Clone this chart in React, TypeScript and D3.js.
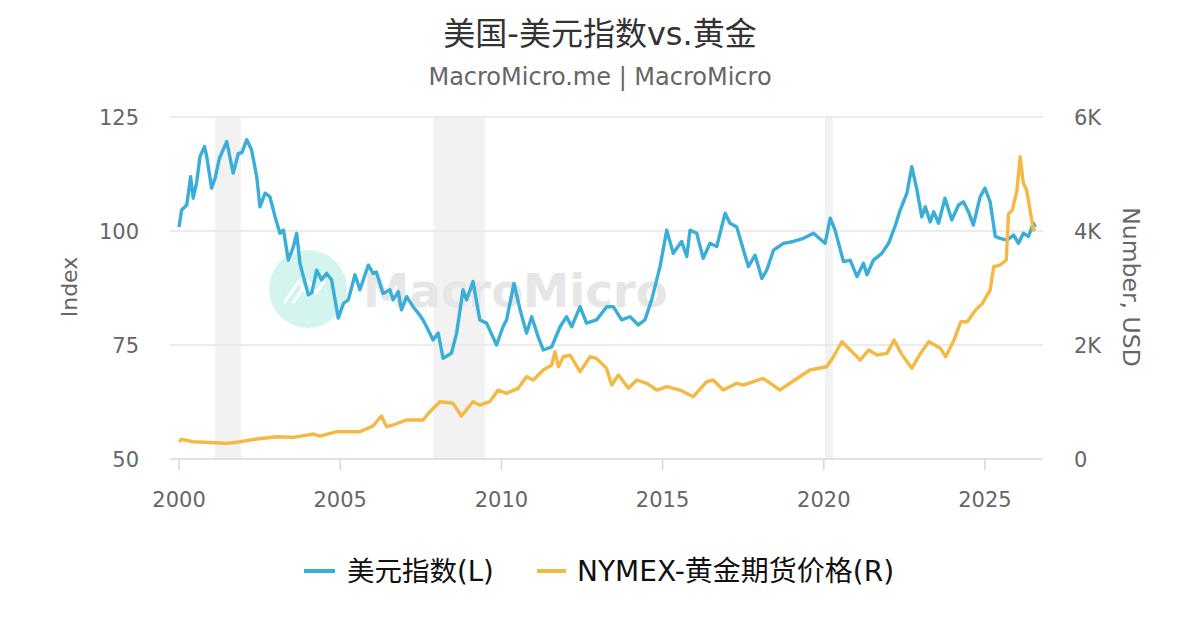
import React from 'react';
import * as d3 from 'd3';

// US Dollar Index (left axis), decimal years
const dxyYears = [
  2000.0, 2000.08, 2000.24, 2000.36, 2000.44, 2000.55, 2000.65, 2000.79, 2000.86, 2001.01,
  2001.12, 2001.25, 2001.48, 2001.68, 2001.84, 2001.95, 2002.1, 2002.25, 2002.41, 2002.51,
  2002.67, 2002.82, 2002.98, 2003.13, 2003.24, 2003.39, 2003.55, 2003.65, 2003.75, 2004.01,
  2004.12, 2004.27, 2004.42, 2004.58, 2004.73, 2004.94, 2005.1, 2005.25, 2005.46, 2005.61,
  2005.87, 2006.02, 2006.12, 2006.33, 2006.54, 2006.64, 2006.8, 2006.9, 2007.06, 2007.26,
  2007.42, 2007.57, 2007.73, 2007.88, 2008.04, 2008.19, 2008.45, 2008.61, 2008.81, 2008.92,
  2009.12, 2009.33, 2009.54, 2009.85, 2010.05, 2010.16, 2010.39, 2010.58, 2010.78, 2010.94,
  2011.14, 2011.3, 2011.56, 2011.82, 2012.02, 2012.18, 2012.44, 2012.64, 2012.95, 2013.27,
  2013.47, 2013.73, 2013.99, 2014.25, 2014.45, 2014.66, 2014.92, 2015.13, 2015.33, 2015.59,
  2015.75, 2015.85, 2016.06, 2016.26, 2016.47, 2016.68, 2016.94, 2017.09, 2017.3, 2017.51,
  2017.66, 2017.87, 2018.08, 2018.23, 2018.44, 2018.75, 2019.06, 2019.37, 2019.68, 2020.04,
  2020.2, 2020.35, 2020.61, 2020.82, 2021.03, 2021.23, 2021.34, 2021.54, 2021.8, 2022.01,
  2022.21, 2022.37, 2022.58, 2022.73, 2022.89, 2023.04, 2023.15, 2023.3, 2023.41, 2023.56,
  2023.76, 2023.97, 2024.18, 2024.33, 2024.49, 2024.64, 2024.85, 2025.0, 2025.16, 2025.32,
  2025.47, 2025.68, 2025.89, 2026.04, 2026.19, 2026.35, 2026.5, 2026.56,
];
const dxyValues = [
  100.9, 104.6, 105.7, 111.9, 107.2, 110.8, 116.3, 118.5, 116.3, 109.4,
  111.6, 115.9, 119.6, 112.7, 117.0, 117.2, 120.0, 117.8, 111.9, 105.3,
  108.3, 107.5, 103.1, 99.5, 100.2, 93.6, 96.6, 99.5, 92.9, 86.0,
  86.5, 91.4, 89.3, 90.7, 89.3, 80.9, 84.1, 84.9, 90.4, 87.1,
  92.5, 90.7, 91.0, 86.3, 87.1, 84.9, 86.7, 82.7, 85.6, 83.4,
  82.0, 80.5, 78.3, 76.1, 77.6, 72.1, 73.2, 77.6, 87.1, 84.9,
  88.9, 80.5, 79.8, 75.0, 79.0, 80.5, 88.5, 82.7, 77.6, 81.2,
  76.8, 73.9, 74.6, 79.0, 81.2, 79.0, 83.4, 79.8, 80.5, 83.4,
  83.4, 80.5, 81.2, 79.4, 80.5, 84.9, 92.2, 100.2, 95.1, 97.7,
  94.4, 100.2, 99.5, 94.0, 97.3, 96.6, 103.9, 101.7, 100.9, 95.8,
  92.2, 94.7, 89.6, 91.4, 95.8, 97.3, 97.7, 98.4, 99.5, 97.3,
  102.8, 100.2, 93.3, 93.6, 90.0, 92.9, 90.4, 93.6, 95.1, 97.3,
  101.0, 104.6, 108.3, 114.1, 109.0, 103.1, 105.3, 102.0, 104.2, 101.7,
  107.2, 102.4, 105.7, 106.4, 104.2, 101.3, 107.5, 109.4, 106.4, 98.8,
  98.4, 98.0, 99.1, 97.3, 99.5, 98.8, 101.7, 100.9,
];

// NYMEX gold futures (right axis, USD)
const goldYears = [
  2000.0, 2000.08, 2000.44, 2001.12, 2001.48, 2001.89, 2002.41, 2003.03, 2003.55, 2004.17,
  2004.37, 2004.89, 2005.61, 2006.02, 2006.28, 2006.44, 2006.64, 2007.05, 2007.57, 2007.78,
  2008.09, 2008.5, 2008.76, 2009.12, 2009.33, 2009.64, 2009.9, 2010.16, 2010.52, 2010.78,
  2010.99, 2011.3, 2011.56, 2011.66, 2011.77, 2011.92, 2012.13, 2012.44, 2012.75, 2012.95,
  2013.26, 2013.42, 2013.63, 2013.94, 2014.2, 2014.51, 2014.82, 2015.13, 2015.54, 2015.95,
  2016.37, 2016.57, 2016.88, 2017.3, 2017.5, 2018.12, 2018.64, 2019.1, 2019.57, 2020.09,
  2020.3, 2020.56, 2020.82, 2021.13, 2021.39, 2021.65, 2021.96, 2022.18, 2022.4, 2022.73,
  2023.0, 2023.26, 2023.62, 2023.78, 2024.04, 2024.25, 2024.45, 2024.71, 2024.92, 2025.16,
  2025.27, 2025.47, 2025.66, 2025.73, 2025.85, 2025.99, 2026.09, 2026.19, 2026.29, 2026.4,
  2026.5, 2026.56,
];
const goldValues = [
  303, 345, 303, 286, 275, 303, 351, 391, 380, 438,
  403, 479, 479, 579, 754, 567, 596, 684, 684, 830,
  1005, 977, 754, 1005, 947, 1005, 1210, 1152, 1240, 1444,
  1386, 1561, 1649, 1882, 1619, 1794, 1824, 1532, 1794, 1766,
  1590, 1298, 1473, 1240, 1386, 1328, 1210, 1268, 1210, 1093,
  1356, 1386, 1210, 1328, 1298, 1415, 1210, 1386, 1561, 1619,
  1794, 2057, 1912, 1736, 1912, 1824, 1853, 2087, 1853, 1591,
  1853, 2057, 1942, 1794, 2087, 2408, 2408, 2613, 2731, 2964,
  3373, 3403, 3490, 4300, 4370, 4700, 5302, 4840, 4718, 4367,
  4011, 4050,
];

// US recession periods (shaded)
const recessionStarts = [2001.12, 2007.89, 2020.04];
const recessionEnds = [2001.92, 2009.49, 2020.28];

const yearTicks = [2000, 2005, 2010, 2015, 2020, 2025];
const leftTicks = [50, 75, 100, 125];
const rightTicks = [0, 2000, 4000, 6000];
const rightTickLabels = ['0', '2K', '4K', '6K'];

const titleText = '美国-美元指数vs.黄金';
const subtitleText = 'MacroMicro.me | MacroMicro';
const seriesNames = ['美元指数(L)', 'NYMEX-黄金期货价格(R)'];
const seriesColors = ['#3aaed8', '#f5b843'];

const FONT = '"DejaVu Sans", "Noto Sans CJK SC", sans-serif';

export default function App() {
  const width = 1200;
  const height = 630;
  const plot = { left: 170, right: 1043, top: 117, bottom: 459 };

  const x = d3.scaleLinear().domain([1999.72, 2026.8]).range([plot.left, plot.right]);
  const yL = d3.scaleLinear().domain([50, 125]).range([plot.bottom, plot.top]);
  const yR = d3.scaleLinear().domain([0, 6000]).range([plot.bottom, plot.top]);

  const dxyLine = d3.line<number>()
    .x((_, i) => x(dxyYears[i]))
    .y(d => yL(d));
  const goldLine = d3.line<number>()
    .x((_, i) => x(goldYears[i]))
    .y(d => yR(d));

  return (
    <svg
      width={width}
      height={height}
      style={{ position: 'absolute', left: 0, top: 0, background: '#fff' }}
      fontFamily={FONT}
    >
      <rect width={width} height={height} fill="#fff" />

      {/* title */}
      <text x={600} y={45} textAnchor="middle" fontSize={32} fill="#333">{titleText}</text>
      <text x={600} y={85} textAnchor="middle" fontSize={24} fill="#666">{subtitleText}</text>

      {/* recession bands */}
      {recessionStarts.map((s, i) => (
        <rect
          key={i}
          x={x(s)}
          y={plot.top}
          width={x(recessionEnds[i]) - x(s)}
          height={plot.bottom - plot.top}
          fill="#f2f2f2"
        />
      ))}

      {/* grid */}
      {leftTicks.slice(1).map(t => (
        <line key={t} x1={plot.left} x2={plot.right} y1={yL(t)} y2={yL(t)} stroke="#e6e6e6" strokeWidth={1.5} />
      ))}

      {/* watermark */}
      <g>
        <circle cx={308} cy={289} r={39} fill="#d3f5ee" />
        <path d="M284,303 L299,281 L306,293 M293,303 L308,281 L316,293 L325,281" fill="none" stroke="#fff" strokeWidth={3} />
        <text x={363} y={307} fontSize={46.5} fontWeight="bold" fill="#e6e6e6" fontFamily={FONT}>MacroMicro</text>
      </g>

      {/* x axis */}
      <line x1={plot.left} x2={plot.right} y1={plot.bottom} y2={plot.bottom} stroke="#d8d8d8" strokeWidth={1.5} />
      {yearTicks.map(t => (
        <g key={t}>
          <line x1={x(t)} x2={x(t)} y1={plot.bottom} y2={plot.bottom + 11} stroke="#d8d8d8" strokeWidth={1.5} />
          <text x={x(t)} y={507} textAnchor="middle" fontSize={21} fill="#666">{t}</text>
        </g>
      ))}

      {/* left axis */}
      {leftTicks.map(t => (
        <text key={t} x={139} y={yL(t)} dy="0.36em" textAnchor="end" fontSize={21} fill="#666">{t}</text>
      ))}
      <text transform="translate(77,287) rotate(-90)" textAnchor="middle" fontSize={22} fill="#666">Index</text>

      {/* right axis */}
      {rightTicks.map((t, i) => (
        <text key={t} x={1074} y={yR(t)} dy="0.36em" textAnchor="start" fontSize={21} fill="#666">{rightTickLabels[i]}</text>
      ))}
      <text transform="translate(1123,287) rotate(90)" textAnchor="middle" fontSize={23.5} fill="#666">Number, USD</text>

      {/* series */}
      <path d={dxyLine(dxyValues) || ''} fill="none" stroke={seriesColors[0]} strokeWidth={3.4} strokeLinejoin="round" />
      <path d={goldLine(goldValues) || ''} fill="none" stroke={seriesColors[1]} strokeWidth={3.4} strokeLinejoin="round" />

      {/* legend */}
      <line x1={304} x2={335} y1={571} y2={571} stroke={seriesColors[0]} strokeWidth={4} />
      <text x={347} y={571} dy="0.36em" fontSize={27.5} fill="#111">{seriesNames[0]}</text>
      <line x1={537} x2={566} y1={571} y2={571} stroke={seriesColors[1]} strokeWidth={4} />
      <text x={577} y={571} dy="0.36em" fontSize={28} fill="#111">{seriesNames[1]}</text>
    </svg>
  );
}
